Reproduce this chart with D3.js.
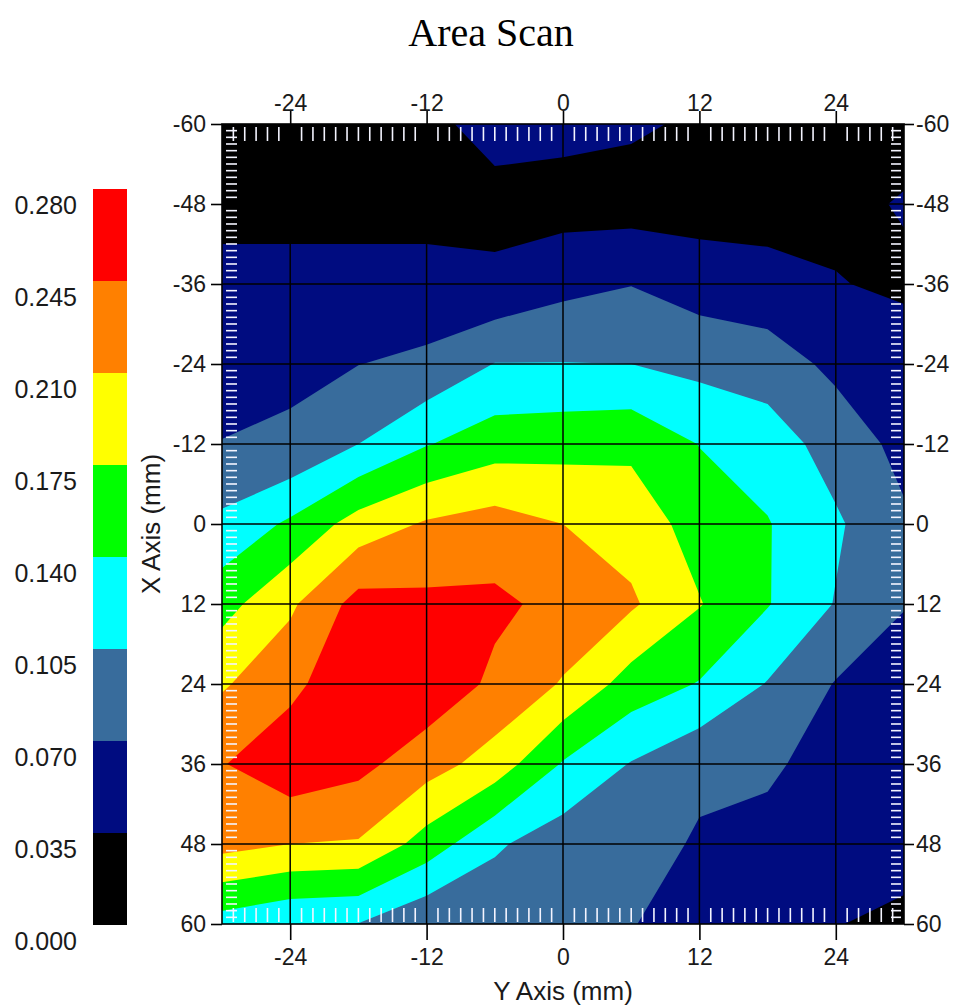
<!DOCTYPE html>
<html>
<head>
<meta charset="utf-8">
<script src="https://cdn.jsdelivr.net/npm/d3@7"></script>
<style>
  body { margin: 0; background: #fff; }
  text { font-family: "Liberation Sans", Arial, sans-serif; fill: #1a1a1a; }
</style>
</head>
<body>
<div id="my_dataviz"></div>
<script>
// scan grid positions (mm): rows run down the X axis, columns across the Y axis
var xRows = [-60, -48, -36, -24, -12, 0, 12, 24, 36, 48, 60];
var yCols = [-30, -24, -18, -12, -6, 0, 6, 12, 18, 24, 30];

// amplitude at every grid node, one list per X row (Y = -30 ... 30)
var rowM60 = [0.010, 0.012, 0.012, 0.028, 0.045, 0.045, 0.040, 0.030, 0.010, 0.010, 0.020];
var rowM48 = [0.020, 0.022, 0.022, 0.022, 0.026, 0.021, 0.020, 0.020, 0.020, 0.025, 0.038];
var rowM36 = [0.050, 0.048, 0.048, 0.048, 0.041, 0.060, 0.069, 0.054, 0.048, 0.037, 0.028];
var rowM24 = [0.055, 0.065, 0.0695, 0.077, 0.106, 0.106, 0.105, 0.095, 0.087, 0.062, 0.056];
var rowM12 = [0.071, 0.074, 0.105, 0.138, 0.159, 0.163, 0.167, 0.139, 0.123, 0.090, 0.060];
var row0   = [0.113, 0.146, 0.190, 0.214, 0.225, 0.210, 0.196, 0.160, 0.142, 0.110, 0.075];
var rowP12 = [0.162, 0.204, 0.258, 0.253, 0.252, 0.235, 0.215, 0.177, 0.142, 0.103, 0.072];
var rowP24 = [0.206, 0.235, 0.275, 0.270, 0.238, 0.207, 0.160, 0.138, 0.103, 0.068, 0.050];
var rowP36 = [0.243, 0.270, 0.255, 0.225, 0.195, 0.137, 0.103, 0.078, 0.078, 0.050, 0.050];
var rowP48 = [0.222, 0.210, 0.207, 0.160, 0.110, 0.086, 0.085, 0.066, 0.055, 0.045, 0.058];
var rowP60 = [0.124, 0.108, 0.104, 0.075, 0.080, 0.075, 0.072, 0.050, 0.050, 0.037, 0.022];

// contour levels and the colour of each band (low to high)
var levels = [0.000, 0.035, 0.070, 0.105, 0.140, 0.175, 0.210, 0.245, 0.280];
var bandColors = ["#000000", "#000c80", "#386c9c", "#00ffff", "#00ff00", "#ffff00", "#ff8000", "#ff0000"];

// tick labels
var xTicks = [-60, -48, -36, -24, -12, 0, 12, 24, 36, 48, 60];
var yTicks = [-24, -12, 0, 12, 24];

var width = 958, height = 1008;

var svg = d3.select("#my_dataviz")
  .append("svg")
  .attr("width", width)
  .attr("height", height);

// plot area
var pLeft = 222, pRight = 904, pTop = 124, pBottom = 924;

// horizontal = Y axis (mm), vertical = X axis (mm)
var x = d3.scaleLinear().domain([-30, 30]).range([pLeft, pRight]);
var y = d3.scaleLinear().domain([-60, 60]).range([pTop, pBottom]);

// title
svg.append("text")
  .attr("x", 491)
  .attr("y", 46)
  .attr("text-anchor", "middle")
  .style("font-family", "'Liberation Serif', 'Times New Roman', serif")
  .style("font-size", "40px")
  .style("fill", "#000")
  .text("Area Scan");

svg.append("clipPath")
  .attr("id", "plotclip")
  .append("rect")
  .attr("x", pLeft).attr("y", pTop)
  .attr("width", pRight - pLeft).attr("height", pBottom - pTop);

// filled contours
var rows = [rowM60, rowM48, rowM36, rowM24, rowM12, row0, rowP12, rowP24, rowP36, rowP48, rowP60];
var values = [].concat.apply([], rows);

var contours = d3.contours()
  .size([yCols.length, xRows.length])
  .thresholds(levels.slice(0, bandColors.length))
  (values);

var yStep = yCols[1] - yCols[0], xStep = xRows[1] - xRows[0];
// d3 puts grid node i at i + 0.5
var proj = d3.geoTransform({
  point: function (c, r) {
    this.stream.point(x(yCols[0] + (c - 0.5) * yStep), y(xRows[0] + (r - 0.5) * xStep));
  }
});
var path = d3.geoPath(proj);

svg.append("g")
  .attr("clip-path", "url(#plotclip)")
  .selectAll("path")
  .data(contours)
  .enter().append("path")
  .attr("d", path)
  .attr("fill", function (d, i) { return bandColors[i]; });

// white minor ticks inside the frame, every 1 mm
var minorY = d3.range(-29, 30).filter(function (d) { return d % 12 !== 0; });
var minorX = d3.range(-59, 60).filter(function (d) { return d % 12 !== 0; });
var minor = svg.append("g")
  .attr("stroke", "#f4f4ff")
  .attr("stroke-width", 1.6);
minor.selectAll("line.mt")
  .data(minorY).enter().append("line")
  .attr("x1", function (d) { return x(d); }).attr("x2", function (d) { return x(d); })
  .attr("y1", pTop + 3).attr("y2", pTop + 17);
minor.selectAll("line.mb")
  .data(minorY).enter().append("line")
  .attr("x1", function (d) { return x(d); }).attr("x2", function (d) { return x(d); })
  .attr("y1", pBottom - 16).attr("y2", pBottom - 2);
minor.selectAll("line.ml")
  .data(minorX).enter().append("line")
  .attr("x1", pLeft + 4).attr("x2", pLeft + 15)
  .attr("y1", function (d) { return y(d); }).attr("y2", function (d) { return y(d); });
minor.selectAll("line.mr")
  .data(minorX).enter().append("line")
  .attr("x1", pRight - 13).attr("x2", pRight - 3)
  .attr("y1", function (d) { return y(d); }).attr("y2", function (d) { return y(d); });

// grid lines
var grid = svg.append("g")
  .attr("stroke", "#000")
  .attr("stroke-width", 1.5);
grid.selectAll("line.gv")
  .data(yTicks).enter().append("line")
  .attr("x1", function (d) { return x(d); }).attr("x2", function (d) { return x(d); })
  .attr("y1", pTop).attr("y2", pBottom);
grid.selectAll("line.gh")
  .data(xTicks.slice(1, -1)).enter().append("line")
  .attr("x1", pLeft).attr("x2", pRight)
  .attr("y1", function (d) { return y(d); }).attr("y2", function (d) { return y(d); });

// frame
svg.append("rect")
  .attr("x", pLeft).attr("y", pTop)
  .attr("width", pRight - pLeft).attr("height", pBottom - pTop)
  .attr("fill", "none")
  .attr("stroke", "#000")
  .attr("stroke-width", 1.6);

// axes on all four sides, plain hyphen minus like the original
var plain = function (d) { return String(d); };
function styleAxis(g) {
  g.select(".domain").remove();
  g.selectAll(".tick line").attr("stroke", "#000").attr("stroke-width", 1.6);
  g.selectAll(".tick text")
    .style("font-family", "'Liberation Sans', Arial, sans-serif")
    .style("font-size", "23px")
    .style("fill", "#1a1a1a");
}

svg.append("g")
  .attr("transform", "translate(" + pLeft + ",0)")
  .call(d3.axisLeft(y).tickValues(xTicks).tickFormat(plain).tickSize(11).tickPadding(5).tickSizeOuter(0))
  .call(styleAxis);

svg.append("g")
  .attr("transform", "translate(" + pRight + ",0)")
  .call(d3.axisRight(y).tickValues(xTicks).tickFormat(plain).tickSize(10).tickPadding(2).tickSizeOuter(0))
  .call(styleAxis);

svg.append("g")
  .attr("transform", "translate(0," + pTop + ")")
  .call(d3.axisTop(x).tickValues(yTicks).tickFormat(plain).tickSize(13).tickPadding(0).tickSizeOuter(0))
  .call(styleAxis);

svg.append("g")
  .attr("transform", "translate(0," + pBottom + ")")
  .call(d3.axisBottom(x).tickValues(yTicks).tickFormat(plain).tickSize(16).tickPadding(9).tickSizeOuter(0))
  .call(styleAxis);

// axis titles
svg.append("text")
  .attr("x", x(0))
  .attr("y", 1000)
  .attr("text-anchor", "middle")
  .style("font-size", "26px")
  .text("Y Axis (mm)");

svg.append("text")
  .attr("transform", "translate(160," + y(0) + ") rotate(-90)")
  .attr("text-anchor", "middle")
  .style("font-size", "26px")
  .text("X Axis (mm)");

// colour legend
var barX = 93, barW = 34, barTop = 189, bandH = 92;
var bands = bandColors.slice().reverse();
svg.selectAll("rect.band")
  .data(bands).enter().append("rect")
  .attr("x", barX)
  .attr("y", function (d, i) { return barTop + i * bandH; })
  .attr("width", barW)
  .attr("height", bandH)
  .attr("fill", function (d) { return d; });

var fmt = d3.format(".3f");
svg.selectAll("text.lev")
  .data(levels.slice().reverse()).enter().append("text")
  .attr("x", 77)
  .attr("y", function (d, i) { return barTop + i * bandH + 16; })
  .attr("dy", "0.35em")
  .attr("text-anchor", "end")
  .style("font-size", "25px")
  .text(function (d) { return fmt(d); });
</script>
</body>
</html>
